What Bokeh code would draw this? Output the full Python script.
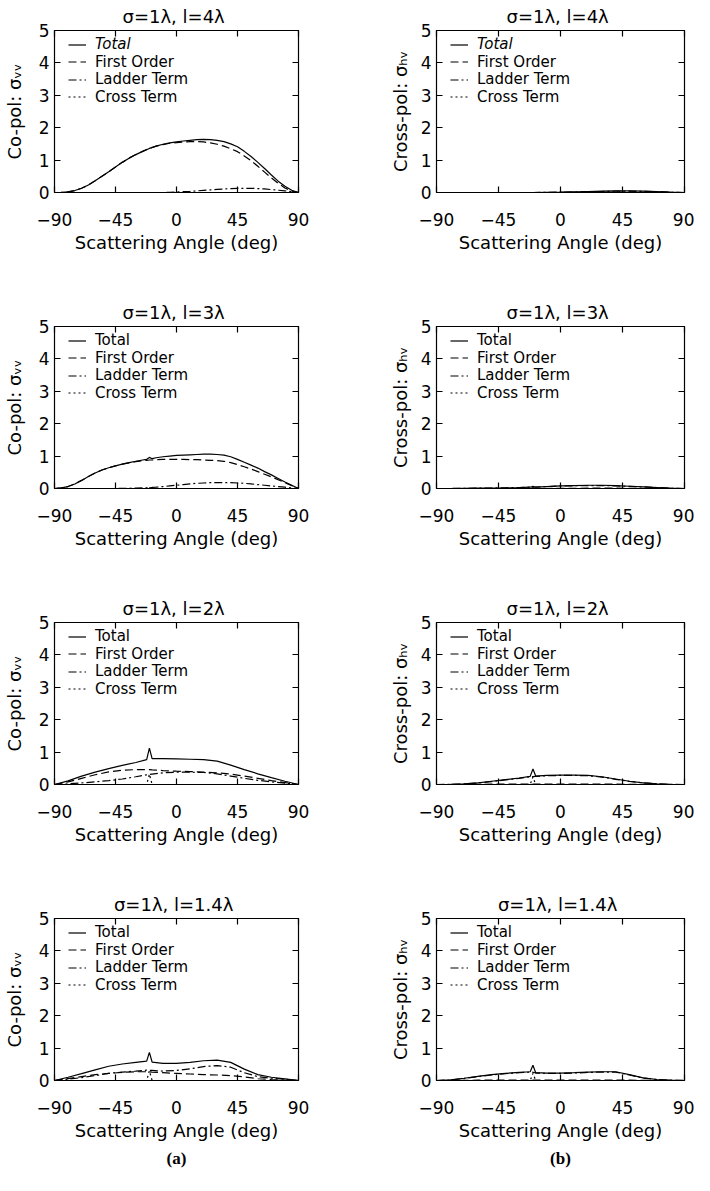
from bokeh.plotting import figure
from bokeh.models import Range1d, LinearAxis, FixedTicker, Legend, LegendItem, Title
from bokeh.layouts import column, row
from bokeh.embed import file_html
from bokeh.resources import INLINE

FONT = "DejaVu Sans"

# ---------------- data ----------------
X_TICKS = [-90, -45, 0, 45, 90]
Y_TICKS = [0, 1, 2, 3, 4, 5]
X_TICK_LABELS = {-90: "\u221290", -45: "\u221245"}
CORR_LENGTHS = ["4", "3", "2", "1.4"]

ANG_5 = [-90, -85, -80, -75, -70, -65, -60, -55, -50, -45, -40, -35, -30, -25, -20, -15, -10, -5,
         0, 5, 10, 15, 20, 25, 30, 35, 40, 45, 50, 55, 60, 65, 70, 75, 80, 85, 90]
ANG_10 = [-90, -80, -70, -60, -50, -40, -30, -20, -10, 0, 10, 20, 30, 40, 50, 60, 70, 80, 90]
ANG_P3 = [-90, -85, -80, -75, -70, -65, -60, -55, -50, -45, -40, -35, -30, -25, -22, -20, -18, -15,
          -10, -5, 0, 5, 10, 15, 20, 25, 30, 35, 40, 45, 50, 55, 60, 65, 70, 75, 80, 85, 90]
ANG_SP = [-90, -80, -70, -60, -50, -40, -30, -22, -20, -18, -10, 0, 10, 20, 30, 40, 50, 60, 70, 80, 90]

# l = 4 lambda, co-pol (ANG_5)
VV4_TOTAL = [0, 0.005, 0.02, 0.06, 0.13, 0.23, 0.36, 0.5, 0.64, 0.79, 0.93, 1.06, 1.17, 1.27, 1.36, 1.43, 1.49, 1.53,
             1.56, 1.59, 1.61, 1.63, 1.64, 1.63, 1.61, 1.57, 1.5, 1.41, 1.27, 1.11, 0.93, 0.74, 0.54, 0.35, 0.19, 0.07, 0]
VV4_FIRST = [0, 0.005, 0.02, 0.06, 0.13, 0.23, 0.36, 0.5, 0.64, 0.79, 0.93, 1.06, 1.17, 1.27, 1.36, 1.43, 1.48, 1.52,
             1.54, 1.56, 1.57, 1.57, 1.56, 1.53, 1.49, 1.43, 1.35, 1.26, 1.13, 0.98, 0.81, 0.63, 0.45, 0.28, 0.14, 0.04, 0]
VV4_LADDER = [0, 0, 0, 0, 0, 0, 0, 0, 0, 0, 0, 0, 0, 0, 0, 0, 0, 0.005,
              0.015, 0.025, 0.035, 0.05, 0.065, 0.08, 0.095, 0.11, 0.12, 0.13, 0.13, 0.13, 0.12, 0.11, 0.09, 0.07, 0.05, 0.03, 0]
VV4_CROSS = [0] * 37

# l = 4 lambda, cross-pol (ANG_10)
HV4_TOTAL = [0, 0, 0, 0, 0, 0, 0, 0, 0.005, 0.01, 0.02, 0.03, 0.04, 0.05, 0.05, 0.04, 0.03, 0.01, 0]
HV4_FIRST = [0, 0, 0, 0, 0, 0, 0, 0, 0, 0, 0.005, 0.005, 0.01, 0.01, 0.01, 0.005, 0, 0, 0]
HV4_LADDER = [0, 0, 0, 0, 0, 0, 0, 0, 0.005, 0.01, 0.015, 0.025, 0.03, 0.04, 0.04, 0.035, 0.03, 0.01, 0]
HV4_CROSS = [0] * 19

# l = 3 lambda, co-pol (ANG_P3)
VV3_TOTAL = [0, 0.02, 0.06, 0.14, 0.25, 0.37, 0.48, 0.57, 0.64, 0.7, 0.75, 0.8, 0.84, 0.88, 0.9, 0.96, 0.92, 0.95,
             0.98, 1.0, 1.02, 1.03, 1.04, 1.05, 1.06, 1.06, 1.05, 1.03, 0.98, 0.9, 0.81, 0.72, 0.63, 0.52, 0.42, 0.31, 0.2, 0.1, 0]
VV3_FIRST = [0, 0.02, 0.06, 0.14, 0.25, 0.37, 0.48, 0.57, 0.64, 0.7, 0.75, 0.79, 0.83, 0.86, 0.87, 0.88, 0.88, 0.89,
             0.9, 0.9, 0.9, 0.9, 0.89, 0.89, 0.88, 0.87, 0.86, 0.84, 0.8, 0.74, 0.67, 0.6, 0.52, 0.44, 0.36, 0.27, 0.18, 0.09, 0]
VV3_LADDER = [0, 0, 0, 0, 0, 0, 0, 0, 0, 0, 0.003, 0.007, 0.012, 0.02, 0.025, 0.03, 0.032, 0.04,
              0.06, 0.08, 0.1, 0.12, 0.14, 0.16, 0.17, 0.18, 0.18, 0.18, 0.18, 0.17, 0.16, 0.14, 0.12, 0.1, 0.08, 0.06, 0.04, 0.02, 0]
VV3_CROSS = [0, 0, 0, 0, 0, 0, 0, 0, 0, 0, 0, 0, 0, 0, 0, 0.03, 0, 0,
             0, 0, 0, 0, 0, 0, 0, 0, 0, 0, 0, 0, 0, 0, 0, 0, 0, 0, 0, 0, 0]

# l = 3 lambda, cross-pol (ANG_SP)
HV3_TOTAL = [0, 0, 0.005, 0.01, 0.015, 0.02, 0.03, 0.04, 0.07, 0.04, 0.06, 0.08, 0.09, 0.1, 0.1, 0.09, 0.07, 0.05, 0.03, 0.01, 0]
HV3_FIRST = [0, 0, 0, 0, 0, 0, 0, 0, 0, 0, 0, 0.005, 0.005, 0.01, 0.01, 0.01, 0.005, 0, 0, 0, 0]
HV3_LADDER = [0, 0, 0.005, 0.01, 0.015, 0.02, 0.03, 0.04, 0.04, 0.04, 0.06, 0.075, 0.085, 0.09, 0.09, 0.08, 0.065, 0.05, 0.03, 0.01, 0]
HV3_CROSS = [0, 0, 0, 0, 0, 0, 0, 0, 0.03, 0, 0, 0, 0, 0, 0, 0, 0, 0, 0, 0, 0]

# l = 2 lambda, co-pol (ANG_SP)
VV2_TOTAL = [0, 0.11, 0.26, 0.38, 0.49, 0.59, 0.68, 0.77, 1.12, 0.8, 0.8, 0.79, 0.78, 0.77, 0.72, 0.6, 0.46, 0.33, 0.21, 0.1, 0]
VV2_FIRST = [0, 0.08, 0.19, 0.3, 0.39, 0.44, 0.46, 0.46, 0.46, 0.45, 0.43, 0.41, 0.4, 0.38, 0.36, 0.32, 0.26, 0.19, 0.12, 0.06, 0]
VV2_LADDER = [0, 0.02, 0.05, 0.08, 0.12, 0.17, 0.24, 0.3, 0.31, 0.32, 0.36, 0.38, 0.38, 0.37, 0.33, 0.26, 0.19, 0.13, 0.08, 0.04, 0]
VV2_CROSS = [0, 0, 0, 0, 0, 0, 0, 0, 0.32, 0, 0, 0, 0, 0, 0, 0, 0, 0, 0, 0, 0]

# l = 2 lambda, cross-pol (ANG_SP)
HV2_TOTAL = [0, 0.005, 0.02, 0.05, 0.1, 0.15, 0.2, 0.25, 0.48, 0.26, 0.28, 0.29, 0.29, 0.28, 0.24, 0.17, 0.1, 0.05, 0.02, 0.005, 0]
HV2_FIRST = [0, 0, 0, 0.005, 0.01, 0.01, 0.01, 0.01, 0.01, 0.01, 0.01, 0.01, 0.01, 0.01, 0.01, 0.01, 0.005, 0, 0, 0, 0]
HV2_LADDER = [0, 0.005, 0.02, 0.045, 0.09, 0.14, 0.19, 0.24, 0.245, 0.25, 0.27, 0.28, 0.28, 0.27, 0.23, 0.16, 0.095, 0.05, 0.02, 0.005, 0]
HV2_CROSS = [0, 0, 0, 0, 0, 0, 0, 0, 0.23, 0, 0, 0, 0, 0, 0, 0, 0, 0, 0, 0, 0]

# l = 1.4 lambda, co-pol (ANG_SP)
VV14_TOTAL = [0, 0.1, 0.21, 0.33, 0.44, 0.51, 0.56, 0.6, 0.87, 0.57, 0.53, 0.53, 0.56, 0.61, 0.63, 0.56, 0.35, 0.18, 0.1, 0.05, 0]
VV14_FIRST = [0, 0.06, 0.12, 0.18, 0.22, 0.25, 0.27, 0.27, 0.27, 0.26, 0.24, 0.22, 0.2, 0.18, 0.17, 0.15, 0.11, 0.06, 0.03, 0.01, 0]
VV14_LADDER = [0, 0.04, 0.09, 0.15, 0.22, 0.26, 0.29, 0.32, 0.31, 0.31, 0.29, 0.31, 0.36, 0.43, 0.46, 0.41, 0.24, 0.12, 0.07, 0.04, 0]
VV14_CROSS = [0, 0, 0, 0, 0, 0, 0, 0, 0.3, 0, 0, 0, 0, 0, 0, 0, 0, 0, 0, 0, 0]

# l = 1.4 lambda, cross-pol (ANG_SP)
HV14_TOTAL = [0, 0.02, 0.07, 0.13, 0.18, 0.22, 0.25, 0.27, 0.47, 0.24, 0.23, 0.23, 0.24, 0.26, 0.27, 0.27, 0.18, 0.08, 0.03, 0.01, 0]
HV14_FIRST = [0, 0, 0.005, 0.01, 0.01, 0.01, 0.01, 0.01, 0.01, 0.01, 0.01, 0.01, 0.01, 0.01, 0.01, 0.01, 0.01, 0.005, 0, 0, 0]
HV14_LADDER = [0, 0.015, 0.06, 0.12, 0.17, 0.21, 0.24, 0.26, 0.255, 0.23, 0.22, 0.22, 0.23, 0.25, 0.26, 0.26, 0.17, 0.075, 0.03, 0.01, 0]
HV14_CROSS = [0, 0, 0, 0, 0, 0, 0, 0, 0.22, 0, 0, 0, 0, 0, 0, 0, 0, 0, 0, 0, 0]

SERIES_NAMES = ["Total", "First Order", "Ladder Term", "Cross Term"]
SERIES_DASH = ["solid", "8 4", "8 3 2 3", "2 3"]

# ---------------- layout ----------------
FRAME_H = 167
TOP_B = 25
ITEM_STEP = 17.5      # distance between legend rows
FIRST_ROW = 11        # first legend row centre below the frame top
LEG_BOTTOM = 17       # empirical distance from row centre to legend anchor


def style_main_axis(ax, label):
    ax.axis_label = label
    ax.axis_label_text_font = FONT
    ax.axis_label_text_font_size = "18px"
    ax.axis_label_text_font_style = "normal"
    ax.axis_label_text_color = "black"
    ax.axis_line_color = "black"
    ax.axis_line_width = 1.2
    ax.major_tick_in = 6
    ax.major_tick_out = 0
    ax.major_tick_line_color = "black"
    ax.major_tick_line_width = 1.2
    ax.minor_tick_line_color = None
    ax.major_label_text_font = FONT
    ax.major_label_text_font_size = "17px"
    ax.major_label_text_color = "black"


def extra_axis(ticks):
    ax = LinearAxis(ticker=FixedTicker(ticks=ticks))
    ax.axis_line_color = "black"
    ax.axis_line_width = 1.2
    ax.major_tick_in = 6
    ax.major_tick_out = 0
    ax.major_tick_line_color = "black"
    ax.major_tick_line_width = 1.2
    ax.minor_tick_line_color = None
    ax.major_label_text_font_size = "0px"
    ax.major_label_text_color = None
    ax.major_label_standoff = 0
    return ax


def legend_kw():
    return dict(border_line_color=None, background_fill_alpha=0, padding=0, margin=0, spacing=0,
                glyph_width=18, glyph_height=15, label_height=15, label_standoff=9,
                label_text_font=FONT, label_text_font_size="15px",
                label_text_color="black")


def make_panel(col, lval, angles, series, last, italic_total, sub):
    if col == 0:
        W, BL, BR = 350, 48, 52
        ylabel = "Co-pol: \u03c3\u1d65\u1d65"
        ylab_standoff = 11
    else:
        W, BL, BR = 344, 86, 10
        ylabel = "Cross-pol: \u03c3\u2095\u1d65"
        ylab_standoff = 7
    H = 284 if last else 296
    BB = H - TOP_B - FRAME_H
    p = figure(width=W, height=H, x_range=Range1d(-90, 90), y_range=Range1d(0, 5),
               min_border_left=BL, min_border_right=BR, min_border_top=TOP_B, min_border_bottom=BB,
               output_backend="svg", toolbar_location=None,
               title="\u03c3=1\u03bb,  l=%s\u03bb" % lval)
    p.title.text_font = FONT
    p.title.text_font_size = "18px"
    p.title.text_font_style = "normal"
    p.title.align = "center"
    p.title.standoff = 7
    p.title.text_line_height = 1.0
    p.title.text_color = "black"
    p.xgrid.visible = False
    p.ygrid.visible = False
    p.outline_line_color = "black"
    p.background_fill_color = "white"
    p.border_fill_color = "white"

    xa = p.below[0]
    ya = p.left[0]
    xa.ticker = FixedTicker(ticks=X_TICKS)
    xa.major_label_overrides = X_TICK_LABELS
    ya.ticker = FixedTicker(ticks=Y_TICKS)
    style_main_axis(xa, "Scattering Angle (deg)")
    style_main_axis(ya, ylabel)
    xa.major_label_standoff = 20
    xa.axis_label_standoff = 3
    ya.major_label_standoff = 5
    ya.axis_label_standoff = ylab_standoff

    p.add_layout(extra_axis(X_TICKS), "above")
    p.add_layout(extra_axis(Y_TICKS), "right")

    rends = []
    for vals, dash in zip(series, SERIES_DASH):
        r = p.line(angles, vals, line_color="black", line_width=1.2, line_dash=dash)
        rends.append(r)
    # one legend per entry so that each row sits exactly where the reference has it
    for k, (name, r) in enumerate(zip(SERIES_NAMES, rends)):
        centre = FIRST_ROW + k * ITEM_STEP
        kw = legend_kw()
        if italic_total and k == 0:
            kw["label_text_font_style"] = "italic"
        lg = Legend(items=[LegendItem(label=name, renderers=[r])],
                    location=(14, FRAME_H - centre - LEG_BOTTOM), **kw)
        p.add_layout(lg)

    if sub:
        t = Title(text=sub, align="center", text_font="Liberation Serif", text_font_style="bold",
                  text_font_size="17px", text_color="black", standoff=6,
                  offset=(0 if col == 0 else -15))
        p.add_layout(t, "below")
    return p


panels = [
    (ANG_5, [VV4_TOTAL, VV4_FIRST, VV4_LADDER, VV4_CROSS], ANG_10, [HV4_TOTAL, HV4_FIRST, HV4_LADDER, HV4_CROSS]),
    (ANG_P3, [VV3_TOTAL, VV3_FIRST, VV3_LADDER, VV3_CROSS], ANG_SP, [HV3_TOTAL, HV3_FIRST, HV3_LADDER, HV3_CROSS]),
    (ANG_SP, [VV2_TOTAL, VV2_FIRST, VV2_LADDER, VV2_CROSS], ANG_SP, [HV2_TOTAL, HV2_FIRST, HV2_LADDER, HV2_CROSS]),
    (ANG_SP, [VV14_TOTAL, VV14_FIRST, VV14_LADDER, VV14_CROSS], ANG_SP, [HV14_TOTAL, HV14_FIRST, HV14_LADDER, HV14_CROSS]),
]

rows = []
for i, (ang_a, ser_a, ang_b, ser_b) in enumerate(panels):
    last = i == len(panels) - 1
    pa = make_panel(0, CORR_LENGTHS[i], ang_a, ser_a, last, i == 0, "(a)" if last else None)
    pb = make_panel(1, CORR_LENGTHS[i], ang_b, ser_b, last, i == 0, "(b)" if last else None)
    rows.append(row(pa, pb))

layout = column(*rows)
open("out.html", "w").write(file_html(layout, INLINE))
